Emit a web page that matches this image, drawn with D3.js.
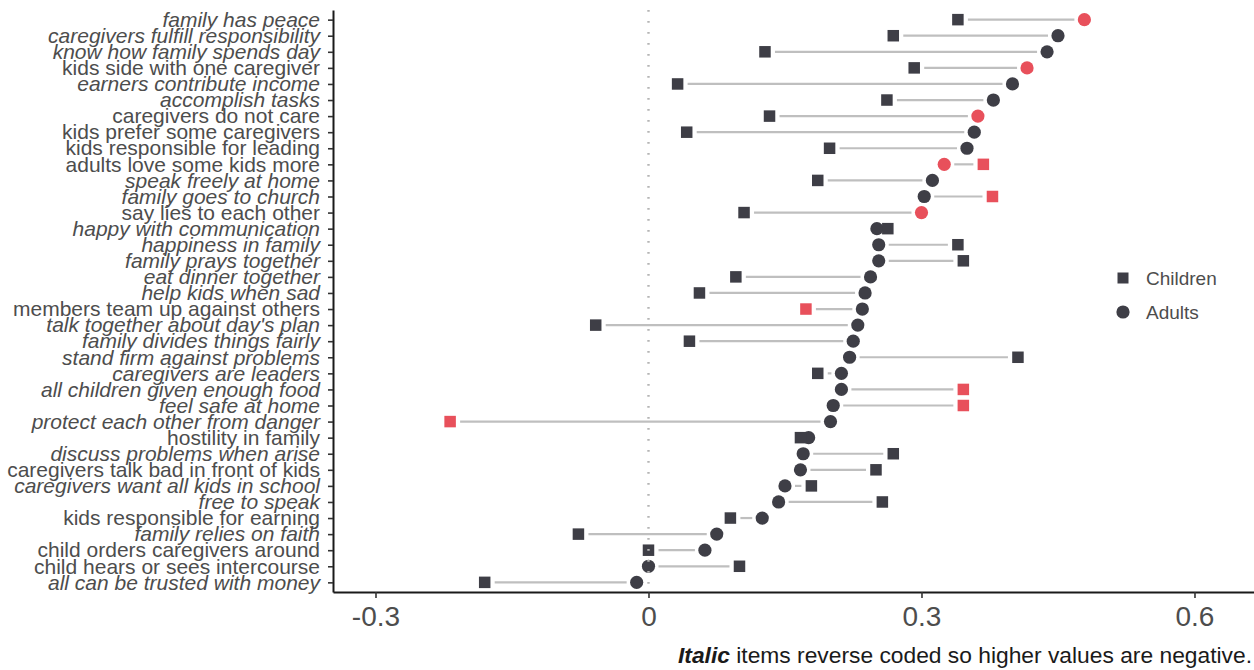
<!DOCTYPE html>
<html>
<head>
<meta charset="utf-8">
<script src="https://cdn.jsdelivr.net/npm/d3@7"></script>
<style>
  body { margin: 0; background: #fff; }
  text { font-family: "Liberation Sans", Arial, sans-serif; }
</style>
</head>
<body>
<div id="chart"></div>
<script>
// items top to bottom
const items = [
  "family has peace", "caregivers fulfill responsibility", "know how family spends day",
  "kids side with one caregiver", "earners contribute income", "accomplish tasks",
  "caregivers do not care", "kids prefer some caregivers", "kids responsible for leading",
  "adults love some kids more", "speak freely at home", "family goes to church",
  "say lies to each other", "happy with communication", "happiness in family",
  "family prays together", "eat dinner together", "help kids when sad",
  "members team up against others", "talk together about day's plan", "family divides things fairly",
  "stand firm against problems", "caregivers are leaders", "all children given enough food",
  "feel safe at home", "protect each other from danger", "hostility in family",
  "discuss problems when arise", "caregivers talk bad in front of kids", "caregivers want all kids in school",
  "free to speak", "kids responsible for earning", "family relies on faith",
  "child orders caregivers around", "child hears or sees intercourse", "all can be trusted with money"
];
// reverse coded items (drawn in italic)
const italicItems = [
  true, true, true, false, true, true, false, false, false, false, true, true,
  false, true, true, true, true, true, false, true, true, true, true, true,
  true, true, false, true, false, true, true, false, true, false, false, true
];
const children = [
  0.340, 0.269, 0.128, 0.292, 0.032, 0.262, 0.133, 0.042, 0.199, 0.368, 0.186, 0.378,
  0.105, 0.263, 0.340, 0.346, 0.096, 0.056, 0.173, -0.058, 0.045, 0.406, 0.186, 0.346,
  0.346, -0.218, 0.167, 0.269, 0.250, 0.179, 0.257, 0.090, -0.077, 0.000, 0.100, -0.180
];
const adults = [
  0.479, 0.450, 0.438, 0.416, 0.400, 0.379, 0.362, 0.358, 0.350, 0.325, 0.312, 0.303,
  0.300, 0.251, 0.253, 0.253, 0.244, 0.238, 0.235, 0.230, 0.225, 0.221, 0.212, 0.212,
  0.203, 0.200, 0.176, 0.170, 0.167, 0.150, 0.143, 0.125, 0.075, 0.062, 0.000, -0.013
];
// highlighted (red) points
const childRed = [
  false, false, false, false, false, false, false, false, false, true, false, true,
  false, false, false, false, false, false, true, false, false, false, false, true,
  true, true, false, false, false, false, false, false, false, false, false, false
];
const adultRed = [
  true, false, false, true, false, false, true, false, false, true, false, false,
  true, false, false, false, false, false, false, false, false, false, false, false,
  false, false, false, false, false, false, false, false, false, false, false, false
];
const xTicks = [-0.3, 0, 0.3, 0.6];
const xTickLabels = ["-0.3", "0", "0.3", "0.6"];
const legendKeys = ["Children", "Adults"];

const width = 1254, height = 670;
const plotLeft = 333, plotRight = 1254, plotTop = 10, plotBottom = 592;
const dark = "#3e3e46", red = "#e8505b";

const rows = items.map((d, i) => ({
  item: d, italic: italicItems[i],
  child: children[i], adult: adults[i],
  childRed: childRed[i], adultRed: adultRed[i]
}));

const svg = d3.select("#chart").append("svg")
  .attr("width", width)
  .attr("height", height);

const x = d3.scaleLinear()
  .domain([-0.3467, 0.6654])
  .range([plotLeft, plotRight]);

const y = d3.scalePoint()
  .domain(items)
  .range([plotTop, plotBottom])
  .padding(0.6);

// segments between the two points, pulled back a bit from each end
const gap = 10;
svg.append("g")
  .selectAll("line")
  .data(rows.filter(d => Math.abs(x(d.adult) - x(d.child)) > 2 * gap))
  .enter().append("line")
  .attr("x1", d => Math.min(x(d.child), x(d.adult)) + gap)
  .attr("x2", d => Math.max(x(d.child), x(d.adult)) - gap)
  .attr("y1", d => y(d.item))
  .attr("y2", d => y(d.item))
  .attr("stroke", "#bfbfbf")
  .attr("stroke-width", 2.2);

// adults = circles
svg.append("g")
  .selectAll("circle")
  .data(rows)
  .enter().append("circle")
  .attr("cx", d => x(d.adult))
  .attr("cy", d => y(d.item))
  .attr("r", 6.6)
  .attr("fill", d => d.adultRed ? red : dark);

// children = squares (on top)
const sq = 11.5;
svg.append("g")
  .selectAll("rect")
  .data(rows)
  .enter().append("rect")
  .attr("x", d => x(d.child) - sq / 2)
  .attr("y", d => y(d.item) - sq / 2)
  .attr("width", sq)
  .attr("height", sq)
  .attr("fill", d => d.childRed ? red : dark);

// dotted zero line
svg.append("line")
  .attr("x1", x(0)).attr("x2", x(0))
  .attr("y1", plotTop).attr("y2", plotBottom)
  .attr("stroke", "#b5b5b5")
  .attr("stroke-width", 2.4)
  .attr("stroke-dasharray", "1.8,9.2");

// y axis
const yAxis = d3.axisLeft(y).tickSizeInner(5).tickSizeOuter(0).tickPadding(8);
const yAxisGroup = svg.append("g")
  .attr("transform", `translate(${plotLeft},0)`)
  .call(yAxis);
yAxisGroup.select(".domain").attr("stroke", "#1a1a1a").attr("stroke-width", 2);
yAxisGroup.selectAll(".tick line").attr("stroke", "#333").attr("stroke-width", 1.6);
yAxisGroup.selectAll(".tick text")
  .attr("font-size", 21)
  .attr("fill", "#4d4d4d")
  .attr("font-style", d => italicItems[items.indexOf(d)] ? "italic" : "normal");

// x axis
const xAxis = d3.axisBottom(x)
  .tickValues(xTicks)
  .tickFormat((d, i) => xTickLabels[i])
  .tickSizeInner(6).tickSizeOuter(0).tickPadding(8);
const xAxisGroup = svg.append("g")
  .attr("transform", `translate(0,${plotBottom})`)
  .call(xAxis);
xAxisGroup.select(".domain").attr("stroke", "#1a1a1a").attr("stroke-width", 2);
xAxisGroup.selectAll(".tick line").attr("stroke", "#333").attr("stroke-width", 1.6);
xAxisGroup.selectAll(".tick text")
  .attr("font-size", 28)
  .attr("fill", "#4d4d4d");

// legend
const legend = svg.append("g")
  .selectAll("g")
  .data(legendKeys)
  .enter().append("g")
  .attr("transform", (d, i) => `translate(1123,${278 + i * 34})`);

legend.filter(d => d === "Children").append("rect")
  .attr("x", -5.5).attr("y", -5.5)
  .attr("width", 11).attr("height", 11)
  .attr("fill", dark);
legend.filter(d => d === "Adults").append("circle")
  .attr("r", 6.6)
  .attr("fill", dark);
legend.append("text")
  .attr("x", 23)
  .attr("dy", "0.36em")
  .attr("font-size", 19)
  .attr("fill", "#4d4d4d")
  .text(d => d);

// caption
const caption = svg.append("text")
  .attr("x", 1252)
  .attr("y", 663)
  .attr("text-anchor", "end")
  .attr("font-size", 22.8)
  .attr("fill", "#1a1a1a");
caption.append("tspan")
  .attr("font-weight", "bold")
  .attr("font-style", "italic")
  .text("Italic");
caption.append("tspan")
  .text(" items reverse coded so higher values are negative.");
</script>
</body>
</html>
